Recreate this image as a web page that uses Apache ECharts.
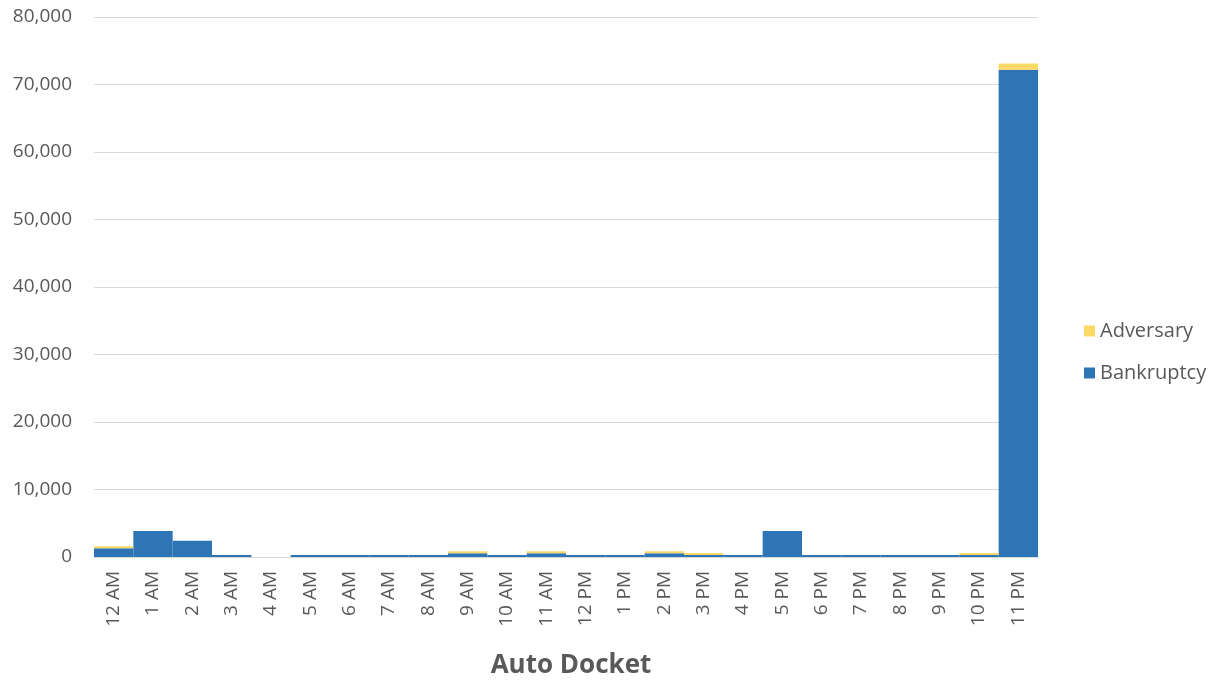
<!DOCTYPE html>
<html><head><meta charset="utf-8">
<script src="https://cdn.jsdelivr.net/npm/echarts@6/dist/echarts.min.js"></script>
<style>html,body{margin:0;padding:0;background:#fff}#c{width:1217px;height:681px}</style>
</head><body><div id="c"></div>
<script>
const categories = ['12 AM','1 AM','2 AM','3 AM','4 AM','5 AM','6 AM','7 AM','8 AM','9 AM','10 AM','11 AM','12 PM','1 PM','2 PM','3 PM','4 PM','5 PM','6 PM','7 PM','8 PM','9 PM','10 PM','11 PM'];
const bankruptcy = [1300,3850,2400,300,0,300,300,300,300,550,300,550,300,300,550,300,300,3850,300,300,300,300,300,72200];
const adversary  = [300,0,0,0,0,0,0,0,0,300,0,300,0,0,300,300,0,0,0,0,0,0,300,900];
const yTicks = [0,10000,20000,30000,40000,50000,60000,70000,80000];
const font = "'Open Sans', 'Noto Sans', sans-serif";
const chart = echarts.init(document.getElementById('c'));
chart.setOption({
  animation:false,
  title:{text:'Auto Docket', left:566, top:648, textAlign:'center',
    textStyle:{fontFamily:font,fontSize:26,fontWeight:'bold',color:'#595959'}},
  legend:{orient:'vertical', left:1079, top:316, itemWidth:11, itemHeight:11, itemGap:22,
    icon:'rect', data:['Adversary','Bankruptcy'],
    textStyle:{fontFamily:font,fontSize:20,color:'#595959'}},
  grid:{left:94, right:179, top:17, bottom:124},
  xAxis:{type:'category', data:categories,
    axisLine:{lineStyle:{color:'#d9d9d9',width:1}}, axisTick:{show:false},
    axisLabel:{rotate:90, fontFamily:font, fontSize:19, color:'#595959', margin:14, interval:0}},
  yAxis:{type:'value', min:yTicks[0], max:yTicks[yTicks.length-1], interval:10000,
    axisLine:{show:false}, axisTick:{show:false},
    splitLine:{lineStyle:{color:'#d9d9d9'}},
    axisLabel:{fontFamily:font,fontSize:19,color:'#595959',margin:22,
      formatter:v=>v.toLocaleString('en-US')}},
  series:[
    {name:'Bankruptcy', type:'bar', stack:'a', data:bankruptcy, barCategoryGap:'0%',
      itemStyle:{color:'#2e75b6'}},
    {name:'Adversary', type:'bar', stack:'a', data:adversary, barCategoryGap:'0%',
      itemStyle:{color:'#ffd966'}}
  ]
});
</script></body></html>
